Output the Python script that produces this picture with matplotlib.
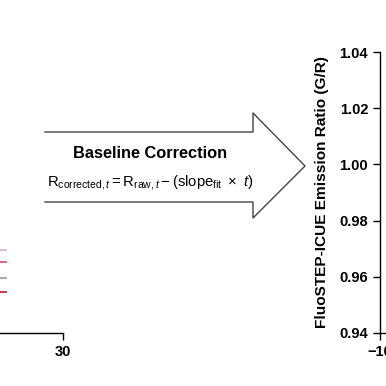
import numpy as np
import matplotlib
matplotlib.use("Agg")
import matplotlib.pyplot as plt
from matplotlib.lines import Line2D

plt.rcParams['font.family'] = ['Liberation Sans', 'DejaVu Sans']
plt.rcParams['mathtext.fontset'] = 'custom'
plt.rcParams['mathtext.rm'] = 'Liberation Sans'
plt.rcParams['mathtext.it'] = 'Liberation Sans:italic'
plt.rcParams['mathtext.bf'] = 'Liberation Sans:bold'

# left panel (raw traces, only their tail end is visible)
raw_t = [20, 21, 22, 23.3]
raw_series = {
    'trace1': [0.9695, 0.9695, 0.9695, 0.9695],
    'trace2': [0.9653, 0.9653, 0.9653, 0.9653],
    'trace3': [0.9596, 0.9596, 0.9596, 0.9596],
    'trace4': [0.9546, 0.9546, 0.9546, 0.9546],
}
raw_colors = ['#dcbcc2', '#d9707e', '#b8a4a6', '#c8364a']
left_xticks = [30]

# right panel axis
right_yticks = [0.94, 0.96, 0.98, 1.00, 1.02, 1.04]
right_xticks = [-10]
ylabel = 'FluoSTEP-ICUE Emission Ratio (G/R)'

W = H = 386
fig = plt.figure(figsize=(3.86, 3.86), dpi=100)


def fx(px):
    return px / W


def fy(py):
    return 1 - py / H


tick_kw = dict(direction='out', length=5, width=1.0, labelsize=10.5)

# left axes
axl = fig.add_axes([fx(-193), fy(333), fx(63) - fx(-193), fy(52) - fy(333)])
for (name, vals), c in zip(raw_series.items(), raw_colors):
    axl.plot(raw_t, vals, color=c, lw=1.4)
axl.set_xlim(0, 30)
axl.set_ylim(0.94, 1.04)
axl.set_xticks(left_xticks)
axl.set_yticks([])
for s in ['top', 'right', 'left']:
    axl.spines[s].set_visible(False)
axl.spines['bottom'].set_linewidth(1.0)
axl.tick_params(axis='x', **tick_kw)
for lab in axl.get_xticklabels():
    lab.set_fontweight('bold')

# right axes
axr = fig.add_axes([fx(380), fy(333), 0.5, fy(52) - fy(333)])
axr.set_xlim(-10, 20)
axr.set_ylim(0.94, 1.04)
axr.set_yticks(right_yticks)
axr.set_yticklabels([f'{v:.2f}' for v in right_yticks])
axr.set_xticks(right_xticks)
for s in ['top', 'right']:
    axr.spines[s].set_visible(False)
for s in ['left', 'bottom']:
    axr.spines[s].set_linewidth(1.0)
axr.tick_params(**tick_kw)
for lab in axr.get_xticklabels() + axr.get_yticklabels():
    lab.set_fontweight('bold')
fig.text(fx(322), fy(192), ylabel, rotation=90, ha='center', va='center',
         fontsize=11.1, fontweight='bold')

# arrow outline (open on the left)
arrow_x = [45, 253, 253, 305, 253, 253, 45]
arrow_y = [132, 132, 113, 166, 218, 202, 202]
fig.add_artist(Line2D([fx(v) for v in arrow_x], [fy(v) for v in arrow_y],
                      color='#444444', lw=1.0, transform=fig.transFigure))

fig.text(fx(150), fy(153), 'Baseline Correction', ha='center', va='center',
         fontsize=11.8, fontweight='bold')
fig.text(fx(150), fy(183),
         r'$\mathrm{R}_{\mathrm{corrected},t} = \mathrm{R}_{\mathrm{raw},t}'
         r' - (\mathrm{slope}_{\mathrm{fit}}\ \times\ t)$',
         ha='center', va='center', fontsize=10.7)

fig.savefig('out.png', dpi=100)
